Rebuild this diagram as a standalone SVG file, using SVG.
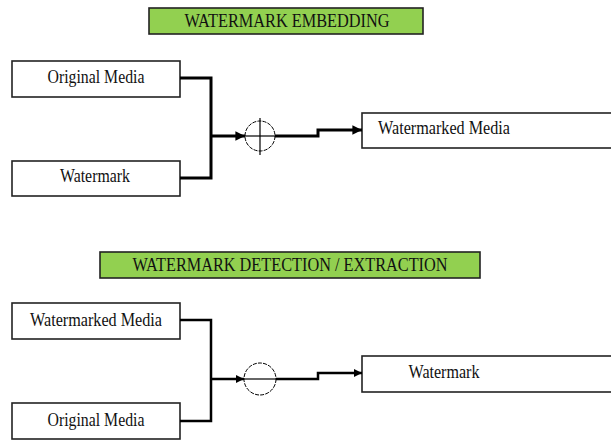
<svg xmlns="http://www.w3.org/2000/svg" width="611" height="441" viewBox="0 0 611 441">
<style>
.box{fill:#fff;stroke:#222;stroke-width:1.6}
.title{fill:#92D050;stroke:#222;stroke-width:1.6}
.t{font-family:"Liberation Serif","Times New Roman",serif;font-size:18px;fill:#111;text-anchor:middle}
.w{fill:none;stroke:#000;stroke-width:3}
.w2{fill:none;stroke:#000;stroke-width:2.5}
.c{fill:#fff;stroke:#000;stroke-width:1;stroke-dasharray:4 1.2}
.x{stroke:#000;stroke-width:1.2}
</style>
<defs>
<marker id="ah" viewBox="0 0 10 10" refX="10" refY="5" markerWidth="3.2" markerHeight="3.2" orient="auto" markerUnits="strokeWidth">
<path d="M0,0 L10,5 L0,10 z" fill="#000"/>
</marker>
</defs>
<g id="title-embed"><rect class="title" x="149" y="8" width="274" height="26"/><text class="t" x="287" y="27" textLength="205" lengthAdjust="spacingAndGlyphs">WATERMARK  EMBEDDING</text></g>
<g id="orig1"><rect class="box" x="12" y="61" width="168" height="36"/><text class="t" x="96" y="83" textLength="97" lengthAdjust="spacingAndGlyphs">Original  Media</text></g>
<g id="wm1"><rect class="box" x="12" y="161" width="168" height="35"/><text class="t" x="95" y="182" textLength="70" lengthAdjust="spacingAndGlyphs">Watermark</text></g>
<g id="out1"><rect class="box" x="362" y="113" width="260" height="35"/><text class="t" x="444" y="134" textLength="132" lengthAdjust="spacingAndGlyphs">Watermarked  Media</text></g>
<g id="plus"><circle class="c" cx="260" cy="136" r="15"/><line class="x" x1="245" y1="136" x2="275" y2="136"/><line class="x" x1="260" y1="118" x2="260" y2="155"/></g>
<g id="title-detect"><rect class="title" x="100" y="252" width="380" height="26"/><text class="t" x="290" y="271" textLength="315" lengthAdjust="spacingAndGlyphs">WATERMARK  DETECTION  / EXTRACTION</text></g>
<g id="wmm2"><rect class="box" x="12" y="303" width="168" height="36"/><text class="t" x="96" y="326" textLength="132" lengthAdjust="spacingAndGlyphs">Watermarked  Media</text></g>
<g id="orig2"><rect class="box" x="12" y="403" width="168" height="36"/><text class="t" x="96" y="426" textLength="97" lengthAdjust="spacingAndGlyphs">Original  Media</text></g>
<g id="out2"><rect class="box" x="362" y="356" width="260" height="36"/><text class="t" x="444" y="378" textLength="71" lengthAdjust="spacingAndGlyphs">Watermark</text></g>
<g id="minus"><circle class="c" cx="260" cy="379" r="16"/><line class="x" x1="244" y1="379" x2="276" y2="379"/></g>
<g id="connectors">
<polyline class="w" points="180,78 211,78 211,178 180,178"/>
<line class="w" x1="211" y1="136" x2="245" y2="136" marker-end="url(#ah)"/>
<polyline class="w" points="275,136 318,136 318,130 362,130" marker-end="url(#ah)"/>
<polyline class="w2" points="180,320 211,320 211,421 180,421"/>
<line class="w2" x1="211" y1="379" x2="244" y2="379" marker-end="url(#ah)"/>
<polyline class="w2" points="276,379 318,379 318,373 362,373" marker-end="url(#ah)"/>
</g>
</svg>
